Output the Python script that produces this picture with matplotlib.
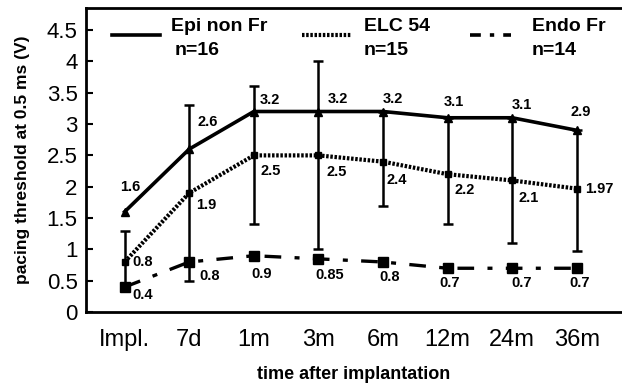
import matplotlib.pyplot as plt

# data
times = ["Impl.", "7d", "1m", "3m", "6m", "12m", "24m", "36m"]
epi = [1.6, 2.6, 3.2, 3.2, 3.2, 3.1, 3.1, 2.9]
elc = [0.8, 1.9, 2.5, 2.5, 2.4, 2.2, 2.1, 1.97]
endo = [0.4, 0.8, 0.9, 0.85, 0.8, 0.7, 0.7, 0.7]
epi_labels = ["1.6", "2.6", "3.2", "3.2", "3.2", "3.1", "3.1", "2.9"]
elc_labels = ["0.8", "1.9", "2.5", "2.5", "2.4", "2.2", "2.1", "1.97"]
endo_labels = ["0.4", "0.8", "0.9", "0.85", "0.8", "0.7", "0.7", "0.7"]
err_low = [0.4, 0.5, 1.4, 1.0, 1.7, 1.4, 1.1, 0.97]
err_high = [1.3, 3.3, 3.6, 4.0, 3.2, 3.1, 3.1, 2.9]

plt.rcParams['font.family'] = ['Liberation Sans', 'DejaVu Sans']

fig = plt.figure(figsize=(6.22, 3.83), dpi=100)
ax = fig.add_axes([0.138, 0.185, 0.862, 0.794])

x = list(range(len(times)))

# error bars
mid = [(lo + hi) / 2 for lo, hi in zip(err_low, err_high)]
half = [(hi - lo) / 2 for lo, hi in zip(err_low, err_high)]
ax.errorbar(x, mid, yerr=half, fmt='none', ecolor='black', elinewidth=1.8,
            capsize=3.5, capthick=1.8, zorder=2)

ax.plot(x, epi, color='black', lw=2.6, marker='^', markersize=6, zorder=4)
ax.plot(x, elc, color='black', lw=3, linestyle=(0, (0.6, 0.4)), marker='s',
        markersize=5, zorder=4)
ax.plot(x, endo, color='black', lw=2.4, linestyle=(0, (5, 4, 1.5, 4)), marker='s',
        markersize=7.5, zorder=4)

# value labels
epi_off = [(-4, 25), (8, 27), (6, 12), (9, 13), (0, 13), (-4, 16), (0, 13), (-6, 18)]
elc_off = [(8, 0), (7, -12), (7, -16), (8, -17), (4, -18), (7, -16), (6, -18), (8, 0)]
endo_off = [(8, -8), (10, -14), (-2, -18), (-3, -16), (-4, -15), (-8, -15), (-1, -15), (-7, -15)]
for i in x:
    ax.annotate(epi_labels[i], (i, epi[i]), xytext=epi_off[i], textcoords='offset pixels',
                ha='left', va='center', fontsize=10.5, fontweight='bold')
    ax.annotate(elc_labels[i], (i, elc[i]), xytext=elc_off[i], textcoords='offset pixels',
                ha='left', va='center', fontsize=10.5, fontweight='bold')
    ax.annotate(endo_labels[i], (i, endo[i]), xytext=endo_off[i], textcoords='offset pixels',
                ha='left', va='center', fontsize=10.5, fontweight='bold')

# hand-made legend
ax.plot([-0.2, 0.55], [4.42, 4.42], color='black', lw=2.6)
ax.text(0.72, 4.55, "Epi non Fr", fontsize=14, fontweight='bold', va='center')
ax.text(0.78, 4.17, "n=16", fontsize=14, fontweight='bold', va='center')
ax.plot([2.75, 3.5], [4.42, 4.42], color='black', lw=3, linestyle=(0, (0.6, 0.4)))
ax.text(3.7, 4.55, "ELC 54", fontsize=14, fontweight='bold', va='center')
ax.text(3.7, 4.17, "n=15", fontsize=14, fontweight='bold', va='center')
ax.plot([5.35, 5.98], [4.42, 4.42], color='black', lw=2.6, linestyle=(0, (3, 2.5, 1.2, 2.5)))
ax.text(6.3, 4.55, "Endo Fr", fontsize=14, fontweight='bold', va='center')
ax.text(6.3, 4.17, "n=14", fontsize=14, fontweight='bold', va='center')

ax.set_xlim(-0.6, 7.7)
ax.set_ylim(0, 4.85)
ax.set_yticks([0, 0.5, 1, 1.5, 2, 2.5, 3, 3.5, 4, 4.5])
ax.set_yticklabels(["0", "0.5", "1", "1.5", "2", "2.5", "3", "3.5", "4", "4.5"], fontsize=16)
ax.set_xticks(x)
ax.set_xticklabels(times, fontsize=17)
ax.tick_params(axis='y', direction='in', length=5, width=1.5, pad=6)
ax.tick_params(axis='x', length=0, pad=12)
for s in ['left', 'top', 'bottom']:
    ax.spines[s].set_linewidth(2)
ax.spines['right'].set_visible(False)

ax.set_xlabel("time after implantation", fontsize=13, fontweight='bold', labelpad=11)
ax.set_ylabel("pacing threshold at 0.5 ms (V)", fontsize=12.5, fontweight='bold', labelpad=12)

fig.savefig("out.png", dpi=100)
